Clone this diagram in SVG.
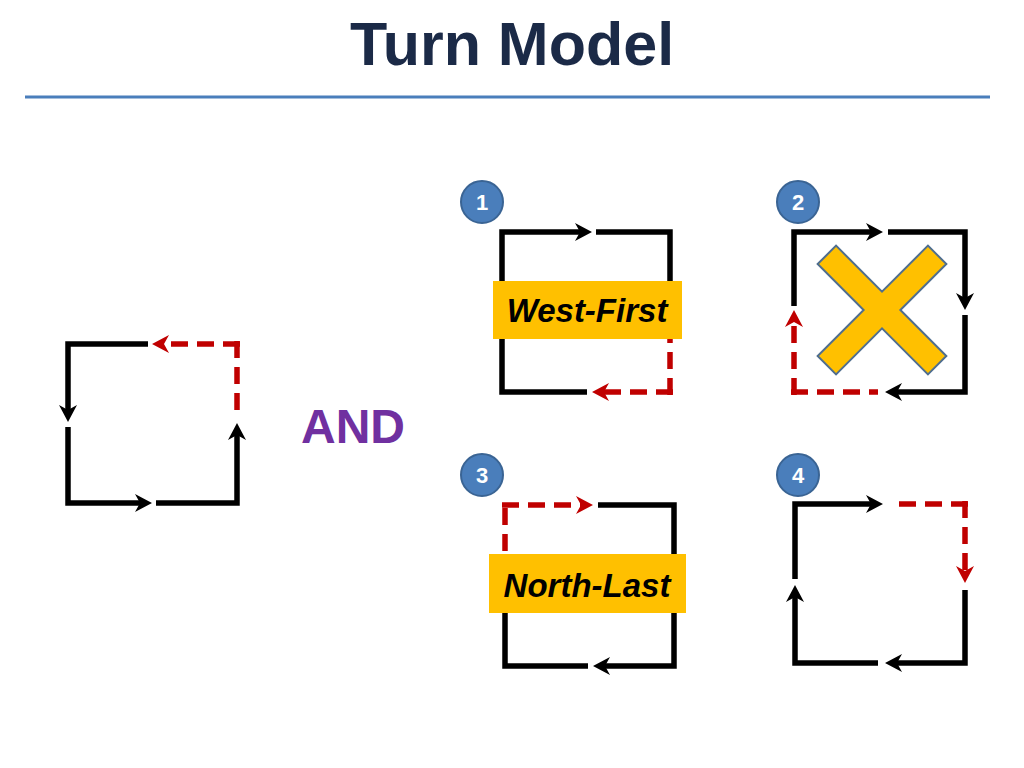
<svg xmlns="http://www.w3.org/2000/svg" width="1024" height="768" viewBox="0 0 1024 768">
<style>
.blk{fill:none;stroke:#000;stroke-width:5.5;stroke-linejoin:miter}
.red{fill:none;stroke:#C00000;stroke-width:5.5;stroke-dasharray:17 9}
.ab{marker-end:url(#ahb)}
.ar{marker-end:url(#ahr)}
.lbl{fill:#FFC000}
.lt{font-family:"Liberation Sans",Arial,sans-serif;font-weight:bold;font-style:italic;font-size:33px;fill:#000;text-anchor:middle}
.num circle{fill:#4A7EBB;stroke:#3A6494;stroke-width:2}
.num text{font-family:"Liberation Sans",Arial,sans-serif;font-weight:bold;font-size:22px;fill:#fff;text-anchor:middle}
</style>
<defs>
<marker id="ahb" markerUnits="userSpaceOnUse" markerWidth="17" markerHeight="18" viewBox="0 0 17 18" refX="10" refY="9" orient="auto">
<path d="M0,0 L17,9 L0,18 L5,9 z" fill="#000"/>
</marker>
<marker id="ahr" markerUnits="userSpaceOnUse" markerWidth="17" markerHeight="18" viewBox="0 0 17 18" refX="10" refY="9" orient="auto">
<path d="M0,0 L17,9 L0,18 L5,9 z" fill="#C00000"/>
</marker>
</defs>
<rect width="1024" height="768" fill="#fff"/>
<g id="title">
<text x="512" y="65" font-family="Liberation Sans,Arial,sans-serif" font-weight="bold" font-size="61" fill="#1B2A47" text-anchor="middle">Turn Model</text>
<line x1="25" y1="97" x2="990" y2="97" stroke="#4A7EBB" stroke-width="3"/>
</g>
<g id="and">
<text x="353" y="443" font-family="Liberation Sans,Arial,sans-serif" font-weight="bold" font-size="48" fill="#7030A0" text-anchor="middle">AND</text>
</g>
<g id="cycle-left">
<path class="blk ab" d="M148,344 H68 V415"/>
<path class="blk ab" d="M68,427 V503 H145"/>
<path class="blk ab" d="M156,503 H237 V430"/>
<path class="red ar" d="M240,344 H159"/>
<path class="red" d="M237,341 V410"/>
</g>
<g id="cycle-1">
<path class="blk" d="M596,232 H670 V282"/>
<path class="blk ab" d="M587,392 H502 V232 H585"/>
<path class="red ar" d="M673,392 H599"/>
<path class="red" d="M670,395 V338"/>
<rect class="lbl" x="493" y="281" width="189" height="58"/>
<text class="lt" x="587" y="322">West-First</text>
<g class="num"><circle cx="482" cy="202" r="21"/><text x="482" y="210">1</text></g>
</g>
<g id="cycle-2">
<path class="blk ab" d="M794,306 V232 H876"/>
<path class="blk ab" d="M888,232 H965 V303"/>
<path class="blk ab" d="M965,315 V392 H892"/>
<path class="red" d="M791,392 H878"/>
<path class="red ar" d="M794,395 V317"/>
<polygon transform="translate(882,310) rotate(45)" points="78,13 78,-13 13,-13 13,-78 -13,-78 -13,-13 -78,-13 -78,13 -13,13 -13,78 13,78 13,13" fill="#FFC000" stroke="#4F6E8F" stroke-width="2" stroke-linejoin="miter"/>
<g class="num"><circle cx="798" cy="202" r="21"/><text x="798" y="210">2</text></g>
</g>
<g id="cycle-3">
<path class="red ar" d="M502,505 H586"/>
<path class="red" d="M505,508 V555"/>
<path class="blk" d="M598,505 H674 V555"/>
<path class="blk" d="M505,612 V666 H588"/>
<path class="blk ab" d="M674,612 V666 H600"/>
<rect class="lbl" x="489" y="554" width="197" height="59"/>
<text class="lt" x="587" y="597">North-Last</text>
<g class="num"><circle cx="482" cy="475" r="21"/><text x="482" y="483">3</text></g>
</g>
<g id="cycle-4">
<path class="blk ab" d="M795,579 V504 H876"/>
<path class="red" d="M968,504 H897"/>
<path class="red ar" d="M965,501 V576"/>
<path class="blk ab" d="M965,590 V663 H892"/>
<path class="blk ab" d="M878,663 H795 V592"/>
<g class="num"><circle cx="798" cy="475" r="21"/><text x="798" y="483">4</text></g>
</g>
</svg>
